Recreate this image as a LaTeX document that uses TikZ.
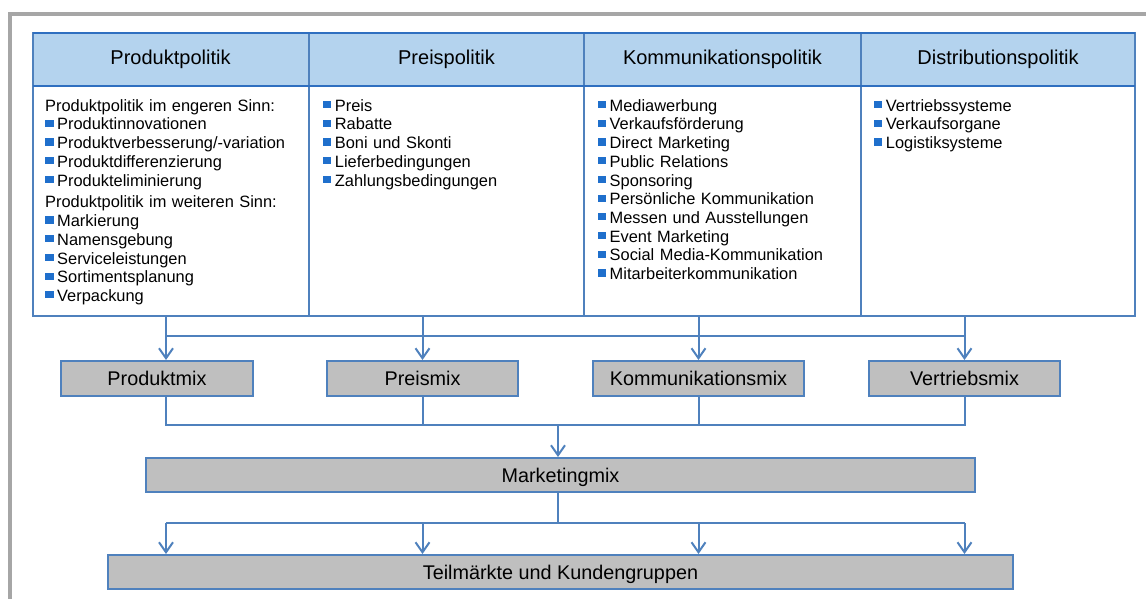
\documentclass[tikz,border=0pt]{standalone}
\usepackage{fontspec}
\setmainfont{Liberation Sans}
\usetikzlibrary{arrows.meta}

\definecolor{framegray}{HTML}{A6A6A6}
\definecolor{lineblue}{HTML}{4F81BD}
\definecolor{edgeblue}{HTML}{2F6FC0}
\definecolor{headfill}{HTML}{B4D3EE}
\definecolor{bulblue}{HTML}{1F6FCC}
\definecolor{mixfill}{HTML}{BFBFBF}

% square list bullet
\newcommand\bul{\textcolor{bulblue}{\rule[3pt]{8.5pt}{7.2pt}}\hspace{3.5pt}}
\newcommand\listfont{\fontsize{16.4}{18.7}\selectfont\spaceskip=5.5pt plus 1pt}

\begin{document}
\begin{tikzpicture}[x=1pt,y=-1pt,
  cell/.style={draw=lineblue, line width=2pt, inner sep=0pt, outer sep=0pt},
  headcell/.style={cell, fill=headfill, minimum height=53pt},
  bodycell/.style={cell, fill=white, minimum height=230pt},
  headtext/.style={anchor=base, inner sep=0pt, font=\fontsize{20}{23}\selectfont},
  listtext/.style={anchor=base west, inner sep=0pt, align=left},
  mixbox/.style={draw=lineblue, line width=2pt, fill=mixfill, inner sep=0pt,
    text height=14pt, text depth=0pt, font=\fontsize{19.8}{23}\selectfont},
  conn/.style={draw=lineblue, line width=2pt},
  arr/.style={conn, -{Straight Barb[length=10pt,width=14pt]}}
]
\useasboundingbox (0,0) rectangle (1146,599);

% outer frame
\draw[framegray, line width=4pt] (9.7,640) -- (9.7,14) -- (1170,14);

% table of the four policy areas
\node[headcell, minimum width=276pt] (h1) at (171,59.5) {};
\node[headcell, minimum width=275pt] (h2) at (446.5,59.5) {};
\node[headcell, minimum width=277pt] (h3) at (722.5,59.5) {};
\node[headcell, minimum width=274pt] (h4) at (998,59.5) {};
\node[bodycell, minimum width=276pt] (b1) at (171,201) {};
\node[bodycell, minimum width=275pt] (b2) at (446.5,201) {};
\node[bodycell, minimum width=277pt] (b3) at (722.5,201) {};
\node[bodycell, minimum width=274pt] (b4) at (998,201) {};
\draw[edgeblue, line width=2pt] (h1.north west) -- (h4.north east);
\draw[edgeblue, line width=2pt] (h1.south west) -- (h4.south east);

\node[headtext] (ht1) at (170.5,64.3) {Produktpolitik};
\node[headtext] (ht2) at (446.5,64.3) {Preispolitik};
\node[headtext] (ht3) at (722.5,64.3) {Kommunikationspolitik};
\node[headtext] (ht4) at (998,64.3) {Distributionspolitik};

\node[listtext] (t1) at (45,111.3) {\parbox[t]{255pt}{\raggedright\listfont
  Produktpolitik im engeren Sinn:\\
  \bul Produktinnovationen\\
  \bul Produktverbesserung/-variation\\
  \bul Produktdifferenzierung\\
  \bul Produkteliminierung\\[3.2pt]
  Produktpolitik im weiteren Sinn:\\
  \bul Markierung\\
  \bul Namensgebung\\
  \bul Serviceleistungen\\
  \bul Sortimentsplanung\\
  \bul Verpackung}};

\node[listtext] (t2) at (322.7,111.3) {\parbox[t]{250pt}{\raggedright\listfont
  \bul Preis\\
  \bul Rabatte\\
  \bul Boni und Skonti\\
  \bul Lieferbedingungen\\
  \bul Zahlungsbedingungen}};

\node[listtext] (t3) at (597.5,111.3) {\parbox[t]{255pt}{\raggedright\listfont
  \bul Mediawerbung\\
  \bul Verkaufsförderung\\
  \bul Direct Marketing\\
  \bul Public Relations\\
  \bul Sponsoring\\
  \bul Persönliche Kommunikation\\
  \bul Messen und Ausstellungen\\
  \bul Event Marketing\\
  \bul Social Media-Kommunikation\\
  \bul Mitarbeiterkommunikation}};

\node[listtext] (t4) at (873.7,111.3) {\parbox[t]{250pt}{\raggedright\listfont
  \bul Vertriebssysteme\\
  \bul Verkaufsorgane\\
  \bul Logistiksysteme}};

% sub-mixes
\node[mixbox, minimum width=192pt, minimum height=35pt] (pm) at (157,378.5) {Produktmix};
\node[mixbox, minimum width=191pt, minimum height=35pt] (prm) at (422.5,378.5) {Preismix};
\node[mixbox, minimum width=211pt, minimum height=35pt] (km) at (698.5,378.5) {Kommunikationsmix};
\node[mixbox, minimum width=191pt, minimum height=35pt] (vm) at (964.5,378.5) {Vertriebsmix};

% marketing mix and target groups
\node[mixbox, minimum width=829pt, minimum height=34pt] (mm) at (560.5,475) {Marketingmix};
\node[mixbox, minimum width=905pt, minimum height=34pt] (tk) at (560.5,572) {Teilmärkte und Kundengruppen};

% connector columns and bus lines
\coordinate (c0) at (558,0);
\coordinate (c1) at (166,0);
\coordinate (c2) at (422.5,0);
\coordinate (c3) at (698.5,0);
\coordinate (c4) at (964.5,0);
\coordinate (bus1) at (0,336);
\coordinate (bus2) at (0,425);
\coordinate (bus3) at (0,523);

% table -> sub-mixes
\draw[arr] (c1 |- b1.south) -- (c1 |- pm.north);
\draw[arr] (c2 |- b2.south) -- (c2 |- prm.north);
\draw[arr] (c3 |- b3.south) -- (c3 |- km.north);
\draw[arr] (c4 |- b4.south) -- (c4 |- vm.north);
\draw[conn] (c1 |- bus1) -- (c4 |- bus1);

% sub-mixes -> marketing mix
\draw[conn] (c1 |- pm.south) -- (c1 |- bus2) -- (c4 |- bus2) -- (c4 |- vm.south);
\draw[conn] (c2 |- prm.south) -- (c2 |- bus2);
\draw[conn] (c3 |- km.south) -- (c3 |- bus2);
\draw[arr] (c0 |- bus2) -- (c0 |- mm.north);

% marketing mix -> target groups
\draw[conn] (c0 |- mm.south) -- (c0 |- bus3);
\draw[conn] (c1 |- bus3) -- (c4 |- bus3);
\draw[arr] (c1 |- bus3) -- (c1 |- tk.north);
\draw[arr] (c2 |- bus3) -- (c2 |- tk.north);
\draw[arr] (c3 |- bus3) -- (c3 |- tk.north);
\draw[arr] (c4 |- bus3) -- (c4 |- tk.north);
\end{tikzpicture}
\end{document}
